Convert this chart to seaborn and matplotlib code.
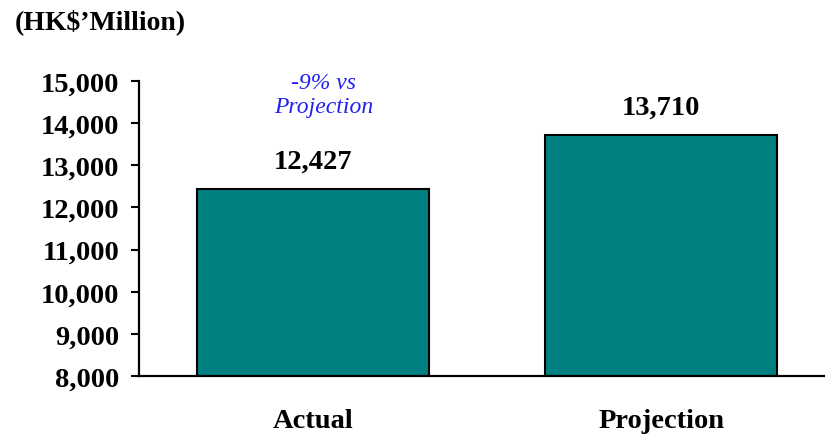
import matplotlib
matplotlib.use("Agg")
import matplotlib.pyplot as plt
import seaborn as sns
import pandas as pd
from matplotlib.ticker import FuncFormatter

categories = ["Actual", "Projection"]
values = [12427, 13710]
y_ticks = [8000, 9000, 10000, 11000, 12000, 13000, 14000, 15000]
note_text = "-9% vs\nProjection"
unit_text = "(HK$\u2019Million)"

df = pd.DataFrame({"category": categories, "value": values})

sns.set_theme(style="white")
plt.rcParams["font.family"] = ["Liberation Serif", "DejaVu Serif"]

fig = plt.figure(figsize=(8.25, 4.39), dpi=100)
ax = fig.add_axes([139 / 825, 62 / 439, (825 - 139) / 825, (377 - 82) / 439])

sns.barplot(data=df, x="category", y="value", color="#008080", saturation=1,
            width=0.667, edgecolor="black", linewidth=1.5, ax=ax)

ax.set_ylim(8000, 15000)
ax.set_xlim(-0.5, 1.471)
ax.set_yticks(y_ticks)
ax.yaxis.set_major_formatter(FuncFormatter(lambda v, p: f"{int(v):,}"))
ax.set_xlabel("")
ax.set_ylabel("")

for side in ["top", "right"]:
    ax.spines[side].set_visible(False)
for side in ["left", "bottom"]:
    ax.spines[side].set_color("black")
    ax.spines[side].set_linewidth(1.6)

ax.tick_params(axis="y", which="major", left=True, length=6, width=1.5,
               color="black", labelsize=20.5, pad=8)
ax.tick_params(axis="x", bottom=False, labelsize=20.5, pad=17)
for lbl in ax.get_yticklabels() + ax.get_xticklabels():
    lbl.set_fontweight("bold")
    lbl.set_color("black")

for i, v in enumerate(values):
    ax.annotate(f"{v:,}", xy=(i, v), xytext=(0, 20.5), textcoords="offset points",
                ha="center", va="center", fontsize=20.5, fontweight="bold",
                color="black")

ax.text(0.03, 14680, note_text, ha="center", va="center", fontsize=17,
        style="italic", color="#2020F5", linespacing=1.2)

fig.text(15 / 825, 1 - 22 / 439, unit_text, ha="left", va="center",
         fontsize=20, fontweight="bold", color="black")

fig.savefig("out.png", dpi=100)
